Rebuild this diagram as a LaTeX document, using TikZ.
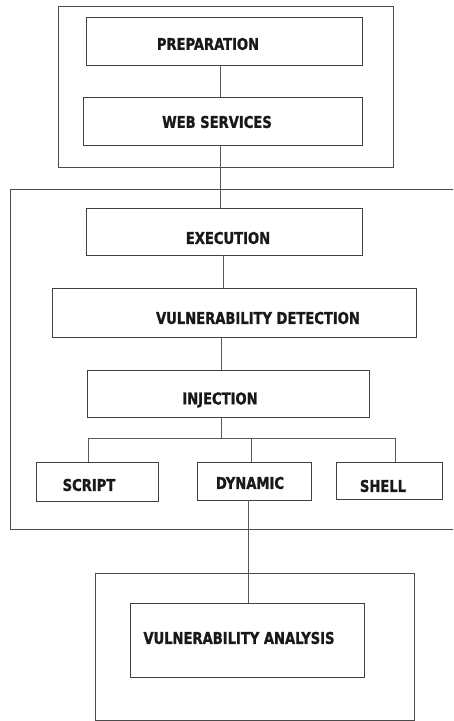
\documentclass[tikz,border=0pt]{standalone}
\usepackage{fontspec}
\setmainfont{DejaVu Sans Condensed}[FakeStretch=0.9, BoldFeatures={FakeBold=1.2, FakeStretch=0.9}]
\begin{document}
\begin{tikzpicture}[x=1pt,y=-1pt,
  frame/.style={draw=black!70, line width=0.9pt},
  stage/.style={draw=black!75, line width=0.9pt},
  label/.style={font=\fontsize{16.2}{18}\selectfont\bfseries, text=black!90, inner sep=0pt},
  link/.style={draw=black!65, line width=0.8pt}]
\useasboundingbox (0,0) rectangle (453,721);
\clip (0,0) rectangle (453,721);

% outer frames
\draw[frame] (58,6) rectangle (393,167);
\draw[frame] (10,189) rectangle (470,529);
\draw[frame] (95,573) rectangle (414,720);

% stage boxes
\draw[stage] (86,17) rectangle (362,65);   \coordinate (prepB) at (220,65);
\draw[stage] (83,97) rectangle (362,145);  \coordinate (webT) at (220,97); \coordinate (webB) at (220,145);
\draw[stage] (86,208) rectangle (362,255); \coordinate (exeT) at (220,208); \coordinate (exeB) at (223,255);
\draw[stage] (52,288) rectangle (416,337); \coordinate (vdT) at (223,288); \coordinate (vdB) at (221,337);
\draw[stage] (87,370) rectangle (369,417); \coordinate (injT) at (221,370); \coordinate (injB) at (221,417);
\draw[stage] (36,462) rectangle (158,501);
\draw[stage] (197,462) rectangle (311,500);
\draw[stage] (336,462) rectangle (442,499);
\draw[stage] (130,603) rectangle (364,677);

% labels
\node[label] (prep) at (208,44) {PREPARATION};
\node[label] (web) at (217,122) {WEB SERVICES};
\node[label] (exe) at (228,238) {EXECUTION};
\node[label] (vd) at (258,318) {VULNERABILITY DETECTION};
\node[label] (inj) at (220,400) {INJECTION};
\node[label] (scr) at (89,485) {SCRIPT};
\node[label] (dyn) at (250,483) {DYNAMIC};
\node[label] (shl) at (383,486) {SHELL};
\node[label] (va) at (239,638) {VULNERABILITY ANALYSIS};

% connectors
\coordinate (bus) at (221,438);
\coordinate (busL) at (88,438);
\coordinate (busM) at (251,438);
\coordinate (busR) at (395,438);
\coordinate (scrT) at (88,462);
\coordinate (dynT) at (251,462);
\coordinate (shlT) at (395,462);
\coordinate (dynB) at (248,500);
\coordinate (vaT) at (248,603);

\draw[link] (prepB) -- (webT);
\draw[link] (webB) -- (exeT);
\draw[link] (exeB) -- (vdT);
\draw[link] (vdB) -- (injT);
\draw[link] (injB) -- (bus);
\draw[link] (busL) -- (busR);
\draw[link] (busL) -- (scrT);
\draw[link] (busM) -- (dynT);
\draw[link] (busR) -- (shlT);
\draw[link] (dynB) -- (vaT);
\end{tikzpicture}
\end{document}
